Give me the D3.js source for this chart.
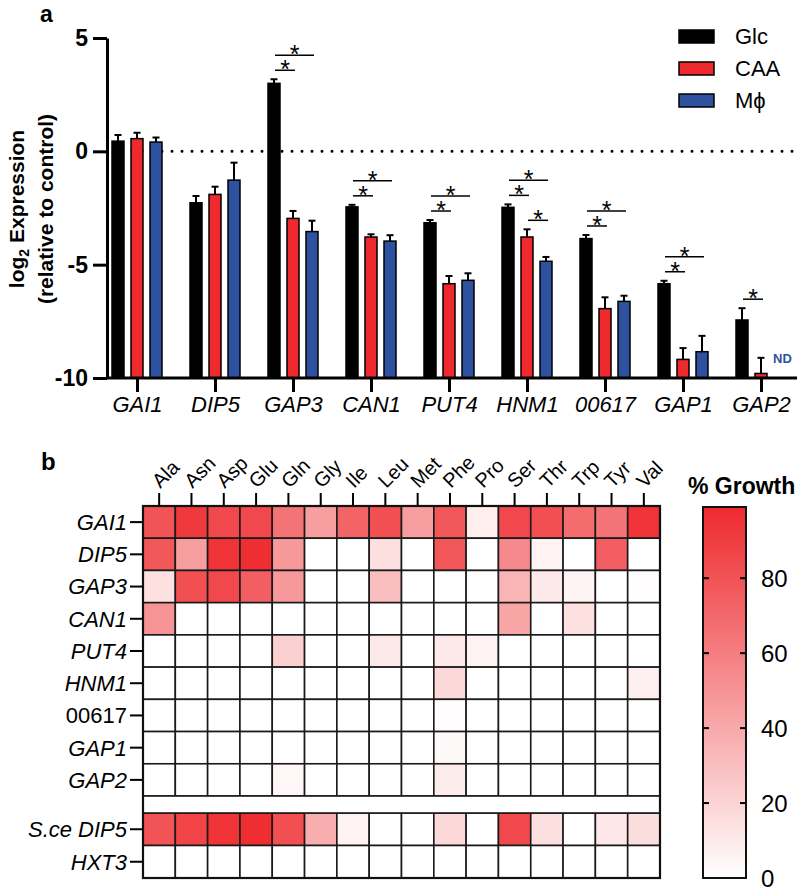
<!DOCTYPE html>
<html>
<head>
<meta charset="utf-8">
<script src="https://cdn.jsdelivr.net/npm/d3@7"></script>
<style>
body { margin: 0; background: #fff; }
svg text { font-family: Arial, "Liberation Sans", sans-serif; }
</style>
</head>
<body>
<svg id="svg1" width="800" height="891"></svg>
<script>
// panel a: log2 expression
var genes = ["GAI1", "DIP5", "GAP3", "CAN1", "PUT4", "HNM1", "00617", "GAP1", "GAP2"];
var conditions = ["Glc", "CAA", "M\u03d5"];
var glc_mean = [0.45, -2.27, 3.0, -2.45, -3.15, -2.47, -3.85, -5.84, -7.44];
var glc_err  = [0.27, 0.3, 0.18, 0.09, 0.12, 0.13, 0.16, 0.13, 0.52];
var caa_mean = [0.56, -1.9, -2.96, -3.78, -5.84, -3.78, -6.94, -9.18, -9.8];
var caa_err  = [0.26, 0.34, 0.33, 0.12, 0.34, 0.34, 0.5, 0.5, 0.69];
var mac_mean = [0.41, -1.27, -3.54, -3.96, -5.69, -4.85, -6.62, -8.84, null];
var mac_err  = [0.2, 0.77, 0.48, 0.26, 0.31, 0.19, 0.25, 0.7, null];
var yTicks = [5, 0, -5, -10];
// [gene, from condition, to condition, level]
var brackets = [
	["GAP3", 0, 1, 1], ["GAP3", 0, 2, 2],
	["CAN1", 0, 1, 1], ["CAN1", 0, 2, 2],
	["PUT4", 0, 1, 1], ["PUT4", 0, 2, 2],
	["HNM1", 0, 1, 1], ["HNM1", 0, 2, 2], ["HNM1", 1, 2, 1],
	["00617", 0, 1, 1], ["00617", 0, 2, 2],
	["GAP1", 0, 1, 1], ["GAP1", 0, 2, 2],
	["GAP2", 0, 1, 1]
];

// panel b: % growth
var aminoAcids = ["Ala", "Asn", "Asp", "Glu", "Gln", "Gly", "Ile", "Leu", "Met", "Phe", "Pro", "Ser", "Thr", "Trp", "Tyr", "Val"];
var heatRows = ["GAI1", "DIP5", "GAP3", "CAN1", "PUT4", "HNM1", "00617", "GAP1", "GAP2"];
var heatRows2 = ["S.ce DIP5", "HXT3"];
var growth = [
	[80, 92, 85, 85, 65, 45, 72, 82, 45, 78, 8, 85, 82, 68, 65, 95],
	[78, 45, 95, 97, 48, 0, 0, 15, 0, 78, 0, 55, 6, 0, 75, 0],
	[14, 82, 85, 75, 48, 0, 0, 30, 0, 0, 0, 35, 10, 5, 0, 1],
	[50, 0, 0, 0, 0, 0, 0, 0, 0, 0, 0, 42, 0, 14, 0, 0],
	[0, 0, 0, 0, 22, 0, 0, 10, 0, 10, 6, 0, 0, 0, 0, 0],
	[0, 0, 0, 0, 0, 0, 0, 0, 0, 18, 0, 0, 0, 0, 0, 7],
	[0, 0, 0, 0, 0, 0, 0, 0, 0, 1, 0, 0, 0, 0, 0, 0],
	[0, 0, 0, 0, 0, 0, 0, 0, 0, 3, 0, 0, 0, 0, 0, 0],
	[0, 0, 0, 0, 4, 0, 0, 0, 0, 9, 0, 0, 0, 0, 0, 0]
];
var growth2 = [
	[80, 87, 95, 97, 82, 38, 6, 0, 0, 18, 0, 85, 15, 0, 11, 16],
	[0, 0, 0, 0, 0, 0, 0, 0, 0, 0, 0, 0, 0, 0, 0, 0]
];
var growthTicks = [0, 20, 40, 60, 80];

var barColors = ["#000000", "#ee2a2e", "#2f52a0"];

var svg = d3.select("#svg1");

var draw_bars = function()
{
	var x = d3.scalePoint().domain(genes).range([137, 761]);
	var xSub = d3.scalePoint().domain([0, 1, 2]).range([-19, 19]);
	var y = d3.scaleLinear().domain([-10, 5]).range([378, 38]);
	var barW = 12;

	var series = [
		{mean: glc_mean, err: glc_err},
		{mean: caa_mean, err: caa_err},
		{mean: mac_mean, err: mac_err}
	];
	var bars = [];
	series.forEach(function(s, si) {
		genes.forEach(function(g, gi) {
			if (s.mean[gi] == null) return;
			bars.push({gene: g, cond: si, value: s.mean[gi], err: s.err[gi]});
		});
	});

	var cx = function(d) { return x(d.gene) + xSub(d.cond); };

	// zero line
	svg.append("line")
		.attr("x1", 122).attr("x2", 797)
		.attr("y1", y(0)).attr("y2", y(0))
		.attr("stroke", "#000")
		.attr("stroke-width", 3)
		.attr("stroke-linecap", "round")
		.attr("stroke-dasharray", "0,10");

	svg.append("g").selectAll("line")
		.data(bars)
		.enter().append("line")
		.attr("x1", cx).attr("x2", cx)
		.attr("y1", function(d) { return y(d.value); })
		.attr("y2", function(d) { return y(d.value + d.err); })
		.attr("stroke", "#000").attr("stroke-width", 2);

	svg.append("g").selectAll("line")
		.data(bars)
		.enter().append("line")
		.attr("x1", function(d) { return cx(d) - 3.5; })
		.attr("x2", function(d) { return cx(d) + 3.5; })
		.attr("y1", function(d) { return y(d.value + d.err); })
		.attr("y2", function(d) { return y(d.value + d.err); })
		.attr("stroke", "#000").attr("stroke-width", 2);

	svg.append("g").selectAll("rect")
		.data(bars)
		.enter().append("rect")
		.attr("x", function(d) { return cx(d) - barW / 2; })
		.attr("width", barW)
		.attr("y", function(d) { return y(d.value); })
		.attr("height", function(d) { return y(-10) - y(d.value); })
		.attr("fill", function(d) { return barColors[d.cond]; })
		.attr("stroke", "#000")
		.attr("stroke-width", 1.5);

	// ND
	svg.append("text")
		.attr("x", x("GAP2") + xSub(2) - 7)
		.attr("y", y(-9.35))
		.attr("fill", "#2f52a0")
		.style("font-size", "13px")
		.attr("font-weight", "bold")
		.text("ND");

	// significance brackets
	var errTop = function(gene, cond) {
		var gi = genes.indexOf(gene);
		var s = series[cond];
		return y(s.mean[gi] + s.err[gi]);
	};
	var levelOffset = {1: 9, 2: 24};
	var br = svg.append("g");
	brackets.forEach(function(b) {
		var ly = errTop(b[0], b[1]) - levelOffset[b[3]];
		var x1 = x(b[0]) + xSub(b[1]) + 1;
		var x2 = x(b[0]) + xSub(b[2]) + 2;
		br.append("line")
			.attr("x1", x1).attr("x2", x2)
			.attr("y1", ly).attr("y2", ly)
			.attr("stroke", "#000").attr("stroke-width", 1.5);
		br.append("text")
			.attr("x", (x1 + x2) / 2)
			.attr("y", ly + 8)
			.attr("text-anchor", "middle")
			.style("font-size", "25px")
			.text("*");
	});

	// axes
	var yAxis = svg.append("g")
		.attr("transform", "translate(107,0)")
		.call(d3.axisLeft(y).tickValues(yTicks).tickSize(14).tickSizeOuter(0).tickPadding(5).tickFormat(d3.format("d")));
	yAxis.select(".domain").attr("stroke-width", 3);
	yAxis.selectAll(".tick line").attr("stroke-width", 3);
	yAxis.selectAll(".tick text")
		.style("font-size", "23px")
		.attr("font-weight", "bold")
		.text(function(d) { return d < 0 ? "-" + Math.abs(d) : d; });

	var xAxis = svg.append("g")
		.attr("transform", "translate(0," + y(-10) + ")")
		.call(d3.axisBottom(x).tickSize(14).tickSizeOuter(0).tickPadding(4));
	xAxis.select(".domain").remove();
	xAxis.selectAll(".tick line").attr("stroke-width", 3);
	xAxis.selectAll(".tick text")
		.style("font-size", "22px")
		.style("font-style", "italic");
	svg.append("line")
		.attr("x1", 106).attr("x2", 797)
		.attr("y1", y(-10)).attr("y2", y(-10))
		.attr("stroke", "#000").attr("stroke-width", 3);

	// y title
	var yt = svg.append("text")
		.attr("transform", "translate(24,209) rotate(-90)")
		.attr("text-anchor", "middle")
		.style("font-size", "21px")
		.attr("font-weight", "bold");
	yt.append("tspan").text("log");
	yt.append("tspan").attr("dy", 5).style("font-size", "14px").text("2");
	yt.append("tspan").attr("dy", -5).text(" Expression");
	svg.append("text")
		.attr("transform", "translate(53,209) rotate(-90)")
		.attr("text-anchor", "middle")
		.style("font-size", "21px")
		.attr("font-weight", "bold")
		.text("(relative to control)");

	// legend
	var legend = svg.append("g");
	conditions.forEach(function(c, i) {
		legend.append("rect")
			.attr("x", 679).attr("y", 30 + i * 32)
			.attr("width", 35).attr("height", 13)
			.attr("fill", barColors[i])
			.attr("stroke", "#000").attr("stroke-width", 1.5);
		legend.append("text")
			.attr("x", 735).attr("y", 36 + i * 32)
			.attr("dy", "0.36em")
			.style("font-size", "22px")
			.text(c);
	});

	svg.append("text").attr("x", 40).attr("y", 22)
		.style("font-size", "23px").attr("font-weight", "bold").text("a");
}

var draw_heatmap = function()
{
	var x = d3.scaleBand().domain(aminoAcids).range([143, 660]);
	var y1 = d3.scaleBand().domain(heatRows).range([506, 796]);
	var y2 = d3.scaleBand().domain(heatRows2).range([813, 878]);
	var color = d3.scaleLinear().domain([0, 99]).range(["#ffffff", "#ee2a2e"]);

	var cells = [];
	heatRows.forEach(function(r, ri) {
		aminoAcids.forEach(function(a, ai) {
			cells.push({y: y1(r), h: y1.bandwidth(), aa: a, v: growth[ri][ai]});
		});
	});
	heatRows2.forEach(function(r, ri) {
		aminoAcids.forEach(function(a, ai) {
			cells.push({y: y2(r), h: y2.bandwidth(), aa: a, v: growth2[ri][ai]});
		});
	});

	svg.append("g").selectAll("rect")
		.data(cells)
		.enter().append("rect")
		.attr("x", function(d) { return x(d.aa); })
		.attr("y", function(d) { return d.y; })
		.attr("width", x.bandwidth())
		.attr("height", function(d) { return d.h; })
		.attr("fill", function(d) { return color(d.v); })
		.attr("stroke", "#1a1a1a")
		.attr("stroke-width", 1.6);

	// blank separator strip
	svg.append("rect")
		.attr("x", 143).attr("y", 796)
		.attr("width", 517).attr("height", 17)
		.attr("fill", "#fff")
		.attr("stroke", "#1a1a1a").attr("stroke-width", 1.6);

	svg.append("rect")
		.attr("x", 143).attr("y", 506)
		.attr("width", 517).attr("height", 372)
		.attr("fill", "none")
		.attr("stroke", "#111").attr("stroke-width", 2.2);

	// column ticks and labels
	var top = svg.append("g");
	aminoAcids.forEach(function(a) {
		var cx = x(a) + x.bandwidth() / 2;
		top.append("line")
			.attr("x1", cx).attr("x2", cx)
			.attr("y1", 493).attr("y2", 506)
			.attr("stroke", "#000").attr("stroke-width", 2);
		top.append("text")
			.attr("transform", "translate(" + (cx + 1) + ",489) rotate(-45)")
			.style("font-size", "20px")
			.text(a);
	});

	// row ticks and labels
	var left = svg.append("g");
	var rowLabel = function(r, cy) {
		left.append("line")
			.attr("x1", 130).attr("x2", 143)
			.attr("y1", cy).attr("y2", cy)
			.attr("stroke", "#000").attr("stroke-width", 2);
		left.append("text")
			.attr("x", 127).attr("y", cy)
			.attr("dy", "0.36em")
			.attr("text-anchor", "end")
			.style("font-size", "22px")
			.style("font-style", r == "00617" ? "normal" : "italic")
			.text(r);
	};
	heatRows.forEach(function(r) { rowLabel(r, y1(r) + y1.bandwidth() / 2); });
	heatRows2.forEach(function(r) { rowLabel(r, y2(r) + y2.bandwidth() / 2); });

	// colour bar
	var cScale = d3.scaleLinear().domain([0, 99]).range([878, 507]);
	var grad = svg.append("defs").append("linearGradient")
		.attr("id", "growthGrad")
		.attr("x1", 0).attr("x2", 0).attr("y1", 1).attr("y2", 0);
	grad.append("stop").attr("offset", "0%").attr("stop-color", color(0));
	grad.append("stop").attr("offset", "100%").attr("stop-color", color(99));

	svg.append("rect")
		.attr("x", 703).attr("y", cScale(99))
		.attr("width", 43).attr("height", cScale(0) - cScale(99))
		.attr("fill", "url(#growthGrad)")
		.attr("stroke", "#111").attr("stroke-width", 2);

	var cb = svg.append("g");
	growthTicks.forEach(function(t) {
		if (t > 0) {
			cb.append("line").attr("x1", 703).attr("x2", 709)
				.attr("y1", cScale(t)).attr("y2", cScale(t))
				.attr("stroke", "#000").attr("stroke-width", 2);
			cb.append("line").attr("x1", 740).attr("x2", 746)
				.attr("y1", cScale(t)).attr("y2", cScale(t))
				.attr("stroke", "#000").attr("stroke-width", 2);
		}
		cb.append("text")
			.attr("x", 761).attr("y", cScale(t))
			.attr("dy", "0.36em")
			.style("font-size", "24px")
			.text(t);
	});

	svg.append("text").attr("x", 688).attr("y", 494)
		.style("font-size", "23px").attr("font-weight", "bold").text("% Growth");

	svg.append("text").attr("x", 41).attr("y", 470)
		.style("font-size", "24px").attr("font-weight", "bold").text("b");
}

draw_bars();
draw_heatmap();
</script>
</body>
</html>
